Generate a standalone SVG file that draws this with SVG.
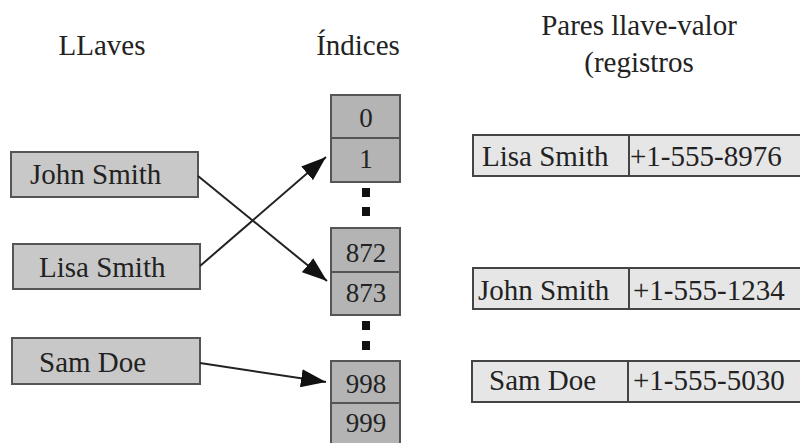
<svg xmlns="http://www.w3.org/2000/svg" width="800" height="443" viewBox="0 0 800 443">
<defs>
<style>
.key rect{fill:#c8c8c8;stroke:#555;stroke-width:2}
.idx rect{fill:#b4b4b4;stroke:#555;stroke-width:2}
.rec rect{fill:#e6e6e6;stroke:#444;stroke-width:2}
.dot{fill:#111}
.conn line{stroke:#222;stroke-width:2}
</style>
<marker id="ah" markerUnits="userSpaceOnUse" markerWidth="26" markerHeight="18" refX="25" refY="9" orient="auto">
<path d="M0,0 L25,9 L0,18 Z" fill="#111"/>
</marker>
</defs>
<rect width="800" height="443" fill="#fff"/>
<g id="titles">
<text x="102" y="55" font-family="Liberation Serif" font-size="29" fill="#222" text-anchor="middle">LLaves</text>
<text x="358" y="55" font-family="Liberation Serif" font-size="29" fill="#222" text-anchor="middle">Índices</text>
<text x="639" y="35" font-family="Liberation Serif" font-size="29" fill="#222" text-anchor="middle">Pares llave-valor</text>
<text x="639" y="72" font-family="Liberation Serif" font-size="29" fill="#222" text-anchor="middle">(registros</text>
</g>
<g id="key-john" class="key"><rect x="11" y="152" width="187" height="45"/><text x="30" y="184" font-family="Liberation Serif" font-size="29" fill="#222">John Smith</text></g>
<g id="key-lisa" class="key"><rect x="13" y="244" width="187" height="45"/><text x="39" y="277" font-family="Liberation Serif" font-size="29" fill="#222">Lisa Smith</text></g>
<g id="key-sam" class="key"><rect x="12" y="338" width="188" height="46"/><text x="39" y="372" font-family="Liberation Serif" font-size="29" fill="#222">Sam Doe</text></g>
<g id="idx-0" class="idx"><rect x="331" y="95" width="69" height="43"/><text x="366" y="127" font-family="Liberation Serif" font-size="27" fill="#222" text-anchor="middle">0</text></g>
<g id="idx-1" class="idx"><rect x="331" y="138" width="69" height="44"/><text x="366" y="168" font-family="Liberation Serif" font-size="27" fill="#222" text-anchor="middle">1</text></g>
<g id="idx-872" class="idx"><rect x="331" y="228" width="69" height="44"/><text x="366" y="262" font-family="Liberation Serif" font-size="27" fill="#222" text-anchor="middle">872</text></g>
<g id="idx-873" class="idx"><rect x="331" y="272" width="69" height="43"/><text x="366" y="302" font-family="Liberation Serif" font-size="27" fill="#222" text-anchor="middle">873</text></g>
<g id="idx-998" class="idx"><rect x="331" y="361" width="69" height="42"/><text x="366" y="393" font-family="Liberation Serif" font-size="27" fill="#222" text-anchor="middle">998</text></g>
<g id="idx-999" class="idx"><rect x="331" y="403" width="69" height="44"/><text x="366" y="432" font-family="Liberation Serif" font-size="27" fill="#222" text-anchor="middle">999</text></g>
<g id="dots">
<rect class="dot" x="362" y="188" width="8" height="9"/>
<rect class="dot" x="362" y="207" width="8" height="9"/>
<rect class="dot" x="362" y="321" width="8" height="9"/>
<rect class="dot" x="362" y="341" width="8" height="9"/>
</g>
<g id="rec-lisa" class="rec"><rect x="473" y="135" width="156" height="41"/><rect x="629" y="135" width="180" height="41"/><text x="482" y="166" font-family="Liberation Serif" font-size="29" fill="#222">Lisa Smith</text><text x="630" y="166" font-family="Liberation Serif" font-size="29" fill="#222">+1-555-8976</text></g>
<g id="rec-john" class="rec"><rect x="473" y="268" width="156" height="41"/><rect x="629" y="268" width="180" height="41"/><text x="478" y="300" font-family="Liberation Serif" font-size="29" fill="#222">John Smith</text><text x="633" y="300" font-family="Liberation Serif" font-size="29" fill="#222">+1-555-1234</text></g>
<g id="rec-sam" class="rec"><rect x="472" y="361" width="156" height="41"/><rect x="628" y="361" width="180" height="41"/><text x="489" y="390" font-family="Liberation Serif" font-size="29" fill="#222">Sam Doe</text><text x="633" y="390" font-family="Liberation Serif" font-size="29" fill="#222">+1-555-5030</text></g>
<g id="connectors" class="conn">
<line x1="198" y1="176" x2="327" y2="281" marker-end="url(#ah)"/>
<line x1="200" y1="266" x2="326" y2="157" marker-end="url(#ah)"/>
<line x1="200" y1="363" x2="326" y2="382" marker-end="url(#ah)"/>
</g>
</svg>
